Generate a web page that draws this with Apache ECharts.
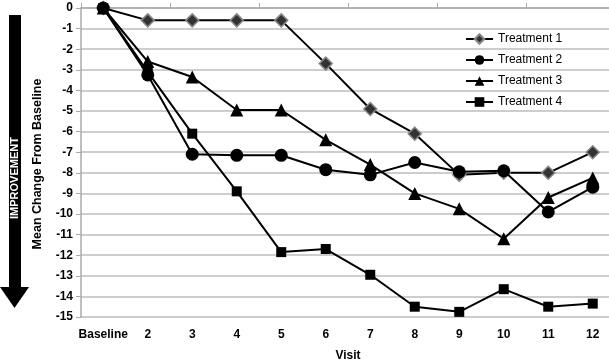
<!DOCTYPE html>
<html>
<head>
<meta charset="utf-8">
<script src="https://cdn.jsdelivr.net/npm/echarts@6/dist/echarts.min.js"></script>
<style>
html,body{margin:0;padding:0;background:#fff;}
#chart{width:609px;height:361px;}
</style>
</head>
<body>
<div id="chart"></div>
<script>
const categories = ['Baseline','2','3','4','5','6','7','8','9','10','11','12'];
const treatment1 = [0, -0.6, -0.6, -0.6, -0.6, -2.7, -4.9, -6.1, -8.1, -8.0, -8.0, -7.0];
const treatment2 = [0, -3.25, -7.1, -7.15, -7.15, -7.85, -8.1, -7.5, -7.95, -7.9, -9.9, -8.7];
const treatment3 = [0, -2.6, -3.35, -4.95, -4.95, -6.4, -7.6, -9.0, -9.75, -11.2, -9.2, -8.25];
const treatment4 = [0, -3.1, -6.1, -8.9, -11.85, -11.7, -12.95, -14.5, -14.75, -13.65, -14.5, -14.35];
const seriesNames = ['Treatment 1','Treatment 2','Treatment 3','Treatment 4'];
const yMin = -15, yMax = 0, yStep = 1;

const font = '"Liberation Sans", Arial, sans-serif';
const chart = echarts.init(document.getElementById('chart'), null, {renderer:'canvas'});

function mkSeries(name, data, symbol, size, style, z) {
  return {
    name: name, type: 'line', data: data, symbol: symbol, symbolSize: size,
    xAxisIndex: 0, z: z,
    lineStyle: {color: '#000', width: 2},
    itemStyle: style,
    emphasis: {disabled: true},
    animation: false
  };
}

chart.setOption({
  animation: false,
  textStyle: {fontFamily: font},
  grid: {left: 81, width: 534, top: 8, height: 309, containLabel: false, outerBoundsMode: 'none'},
  legend: {
    orient: 'vertical', left: 460, top: 28,
    itemWidth: 27, itemHeight: 12, itemGap: 9,
    textStyle: {fontFamily: font, fontSize: 12, color: '#000'},
    data: seriesNames
  },
  xAxis: [{
    type: 'category', data: categories, position: 'bottom', boundaryGap: true,
    axisLine: {show: false}, axisTick: {show: false},
    axisLabel: {fontFamily: font, fontSize: 12, fontWeight: 'bold', color: '#000', margin: 12, interval: 0},
    name: 'Visit', nameLocation: 'middle', nameGap: 33,
    nameTextStyle: {fontFamily: font, fontSize: 12, fontWeight: 'bold', color: '#000'}
  }, {
    type: 'category', data: categories, position: 'top', boundaryGap: true,
    axisLine: {show: true, lineStyle: {color: '#aaa', width: 1.5}},
    axisTick: {show: true, inside: false, length: 5, lineStyle: {color: '#aaa', width: 1}},
    axisLabel: {show: false}
  }],
  yAxis: {
    type: 'value', min: yMin, max: yMax, interval: yStep,
    axisLine: {show: true, onZero: false, lineStyle: {color: '#aaa', width: 1.5}},
    axisTick: {show: true, length: 5, lineStyle: {color: '#aaa'}},
    splitLine: {show: true, lineStyle: {color: '#bdbdbd', width: 1.5}},
    axisLabel: {fontFamily: font, fontSize: 12, fontWeight: 'bold', color: '#000', margin: 8}
  },
  graphic: [
    {type: 'rect', shape: {x: 9, y: 15, width: 12, height: 273}, style: {fill: '#000'}},
    {type: 'polygon', shape: {points: [[0, 287], [29, 287], [14.5, 308]]}, style: {fill: '#000'}},
    {type: 'text', x: 15, y: 178, rotation: Math.PI / 2,
     style: {text: 'IMPROVEMENT', fill: '#fff', font: 'bold 11px ' + font, align: 'center', verticalAlign: 'middle'}},
    {type: 'text', x: 38, y: 164, rotation: Math.PI / 2,
     style: {text: 'Mean Change From Baseline', fill: '#000', font: 'bold 12.5px ' + font, align: 'center', verticalAlign: 'middle'}}
  ],
  series: [
    mkSeries(seriesNames[0], treatment1, 'diamond', 13, {color: '#333', borderColor: '#888', borderWidth: 1.5}, 2),
    mkSeries(seriesNames[1], treatment2, 'circle', 13, {color: '#000', borderColor: '#000', borderWidth: 0}, 5),
    mkSeries(seriesNames[2], treatment3, 'triangle', 13, {color: '#000', borderColor: '#000', borderWidth: 0}, 3),
    mkSeries(seriesNames[3], treatment4, 'rect', 10, {color: '#000', borderColor: '#000', borderWidth: 0}, 4)
  ]
});
</script>
</body>
</html>
